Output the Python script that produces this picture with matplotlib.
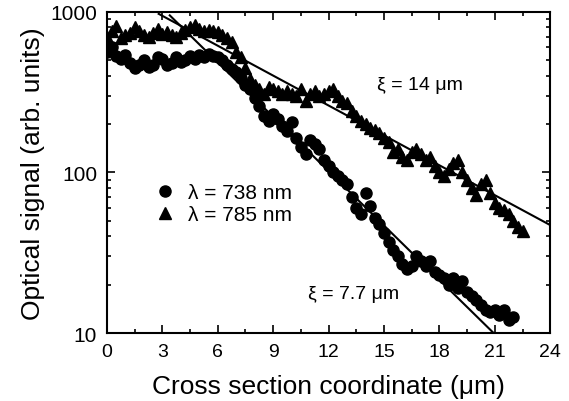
import numpy as np
import matplotlib.pyplot as plt
from matplotlib.ticker import MultipleLocator, LogLocator, NullFormatter, FixedLocator

plt.rcParams['font.family'] = ['Liberation Sans', 'DejaVu Sans']

# lambda = 738 nm (circles)
x_738 = [0.0, 0.25, 0.5, 0.75, 1.0, 1.25, 1.5, 1.75, 2.0, 2.25, 2.5, 2.75, 3.0, 3.25,
         3.5, 3.75, 4.0, 4.25, 4.5, 4.75, 5.0, 5.25, 5.5, 5.75, 6.0, 6.25, 6.5, 6.75,
         7.0, 7.25, 7.5, 7.75, 8.0, 8.25, 8.5, 8.75, 9.0, 9.25, 9.5, 9.75, 10.0, 10.25,
         10.5, 10.75, 11.0, 11.25, 11.5, 11.75, 12.0, 12.25, 12.5, 12.75, 13.0, 13.25,
         13.5, 13.75, 14.0, 14.25, 14.5, 14.75, 15.0, 15.25, 15.5, 15.75, 16.0, 16.25,
         16.5, 16.75, 17.0, 17.25, 17.5, 17.75, 18.0, 18.25, 18.5, 18.75, 19.0, 19.25,
         19.5, 19.75, 20.0, 20.25, 20.5, 20.75, 21.0, 21.25, 21.5, 21.75, 22.0]
y_738 = [560, 600, 530, 510, 540, 480, 450, 470, 500, 455, 470, 520, 510, 470,
         480, 520, 490, 500, 530, 510, 540, 520, 550, 530, 520, 500, 470, 440,
         420, 390, 350, 330, 290, 260, 225, 210, 230, 215, 195, 180, 205, 165,
         145, 130, 160, 150, 140, 120, 110, 100, 95, 90, 85, 70,
         60, 55, 75, 62, 52, 48, 42, 37, 33, 30, 27, 25,
         26, 30, 28, 26, 28, 24, 23, 22, 20, 22, 19, 21,
         18, 17, 16, 15, 14, 13.5, 14, 13, 14, 12, 12.5]

# lambda = 785 nm (triangles)
x_785 = [0.0, 0.25, 0.5, 0.75, 1.0, 1.25, 1.5, 1.75, 2.0, 2.25, 2.5, 2.75, 3.0, 3.25,
         3.5, 3.75, 4.0, 4.25, 4.5, 4.75, 5.0, 5.25, 5.5, 5.75, 6.0, 6.25, 6.5, 6.75,
         7.0, 7.25, 7.5, 7.75, 8.0, 8.25, 8.5, 8.75, 9.0, 9.25, 9.5, 9.75, 10.0, 10.25,
         10.5, 10.75, 11.0, 11.25, 11.5, 11.75, 12.0, 12.25, 12.5, 12.75, 13.0, 13.25,
         13.5, 13.75, 14.0, 14.25, 14.5, 14.75, 15.0, 15.25, 15.5, 15.75, 16.0, 16.25,
         16.5, 16.75, 17.0, 17.25, 17.5, 17.75, 18.0, 18.25, 18.5, 18.75, 19.0, 19.25,
         19.5, 19.75, 20.0, 20.25, 20.5, 20.75, 21.0, 21.25, 21.5, 21.75, 22.0, 22.25, 22.5]
y_785 = [700, 760, 820, 690, 720, 740, 800, 760, 720, 700, 740, 780, 730, 750,
         720, 700, 740, 770, 810, 830, 780, 760, 770, 760, 750, 720, 690, 650,
         560, 520, 450, 380, 350, 330, 310, 340, 330, 320, 310, 320, 310, 300,
         330, 280, 310, 320, 300, 310, 320, 330, 300, 280, 270, 240,
         225, 210, 200, 190, 185, 175, 165, 155, 135, 140, 125, 120,
         135, 140, 130, 120, 125, 110, 100, 95, 105, 115, 120, 100,
         90, 80, 72, 85, 90, 75, 65, 60, 58, 55, 50, 46, 43]

# exponential fits I = A exp(-2x/xi)
xi_738, amp_738, range_738 = 7.7, 2300.0, (3.4, 20.9)
xi_785, amp_785, range_785 = 14.0, 1450.0, (2.8, 24.0)

fig = plt.figure(figsize=(5.69, 4.02), dpi=100)
ax = fig.add_axes([0.188, 0.169, 0.779, 0.799])

ax.plot(x_738, y_738, 'o', color='black', ms=8, mec='black', label='λ = 738 nm', zorder=3)
ax.plot(x_785, y_785, '^', color='black', ms=8.5, mec='black', label='λ = 785 nm', zorder=3)

for xi, amp, (x0, x1) in [(xi_738, amp_738, range_738), (xi_785, amp_785, range_785)]:
    xf = np.linspace(x0, x1, 50)
    ax.plot(xf, amp * np.exp(-2 * xf / xi), color='black', lw=1.5, zorder=4)

ax.set_yscale('log')
ax.set_xlim(0, 24)
ax.set_ylim(10, 1000)
ax.xaxis.set_major_locator(MultipleLocator(3))
ax.xaxis.set_minor_locator(MultipleLocator(1.5))
ax.yaxis.set_major_locator(FixedLocator([10, 100, 1000]))
ax.yaxis.set_minor_locator(LogLocator(base=10, subs=np.arange(2, 10)))
ax.yaxis.set_minor_formatter(NullFormatter())
ax.set_yticklabels(['10', '100', '1000'])
ax.tick_params(which='both', direction='in', top=True, right=True, width=1.2, pad=7)
ax.tick_params(axis='x', labelsize=14)
ax.tick_params(axis='y', labelsize=15)
ax.tick_params(which='major', length=6)
ax.tick_params(which='minor', length=3)
for s in ax.spines.values():
    s.set_linewidth(1.5)

ax.set_xlabel('Cross section coordinate (μm)', fontsize=19, labelpad=10)
ax.set_ylabel('Optical signal (arb. units)', fontsize=19, labelpad=4)

ax.text(14.6, 330, 'ξ = 14 μm', fontsize=14)
ax.text(10.9, 16.5, 'ξ = 7.7 μm', fontsize=14)

ax.legend(loc='upper left', bbox_to_anchor=(0.06, 0.525), frameon=False, fontsize=15,
          handletextpad=0.5, labelspacing=0.15, handlelength=1.2)

fig.savefig('out.png', dpi=100)
